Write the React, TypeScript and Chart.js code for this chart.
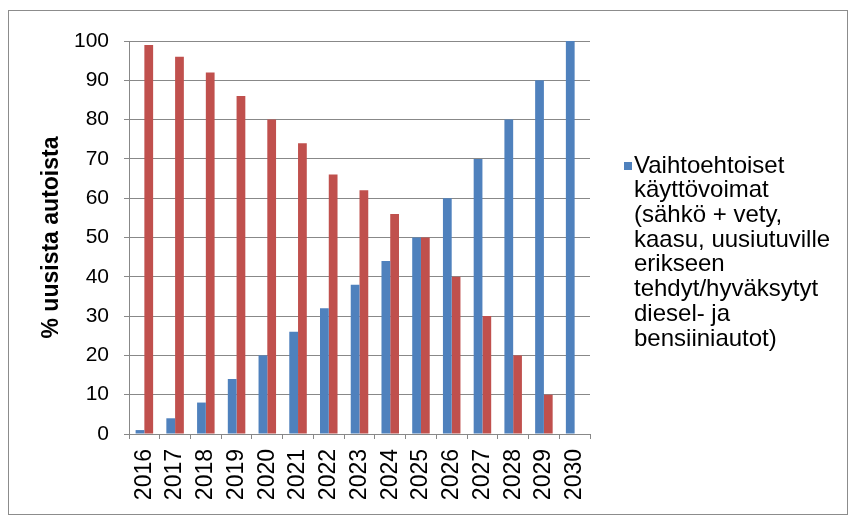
import React, { useEffect, useRef } from "react";
import { Chart, registerables } from "chart.js";

Chart.register(...registerables);

const years = ["2016", "2017", "2018", "2019", "2020", "2021", "2022", "2023", "2024", "2025", "2026", "2027", "2028", "2029", "2030"];
const altValues = [1, 4, 8, 14, 20, 26, 32, 38, 44, 50, 60, 70, 80, 90, 100];
const fossilValues = [99, 96, 92, 86, 80, 74, 66, 62, 56, 50, 40, 30, 20, 10, 0];
const altLabel = "Vaihtoehtoiset käyttövoimat (sähkö + vety, kaasu, uusiutuville erikseen tehdyt/hyväksytyt diesel- ja bensiiniautot)";
const legendLines = [
  "Vaihtoehtoiset",
  "käyttövoimat",
  "(sähkö + vety,",
  "kaasu, uusiutuville",
  "erikseen",
  "tehdyt/hyväksytyt",
  "diesel- ja",
  "bensiiniautot)",
];
const yTitle = "% uusista autoista";

const BLUE = "#4F81BD";
const RED = "#C0504D";
const GRID = "#888888";
const FONT = "'Liberation Sans', Arial, sans-serif";

const CW = 838;
const CH = 503;

const legendPlugin = {
  id: "customLegend",
  afterDraw(chart: any) {
    const ctx = chart.ctx;
    const x0 = chart.chartArea.right + 34;
    const y0 = 155;
    ctx.save();
    ctx.fillStyle = BLUE;
    ctx.fillRect(x0, y0 - 4, 8, 8);
    ctx.fillStyle = "#000";
    ctx.font = "24px " + FONT;
    ctx.textBaseline = "middle";
    ctx.textAlign = "left";
    legendLines.forEach((line, i) => {
      ctx.fillText(line, x0 + 10, y0 + i * 24.7);
    });
    ctx.restore();
  },
};

export default function App() {
  const ref = useRef<HTMLCanvasElement>(null);

  useEffect(() => {
    if (!ref.current) return;
    const chart = new Chart(ref.current, {
      type: "bar",
      data: {
        labels: years,
        datasets: [
          {
            label: altLabel,
            data: altValues,
            backgroundColor: BLUE,
            borderWidth: 0,
            categoryPercentage: 0.57,
            barPercentage: 1,
          },
          {
            label: "Bensiini- ja dieselautot",
            data: fossilValues,
            backgroundColor: RED,
            borderWidth: 0,
            categoryPercentage: 0.57,
            barPercentage: 1,
          },
        ],
      },
      options: {
        responsive: false,
        animation: false,
        layout: { padding: { left: 0, right: CW - 581, top: 30, bottom: 0 } },
        plugins: {
          legend: { display: false },
          tooltip: { enabled: false },
        },
        scales: {
          x: {
            grid: {
              display: true,
              drawOnChartArea: false,
              drawTicks: true,
              tickLength: 5,
              color: GRID,
              offset: true,
            },
            border: { display: true, color: GRID, width: 1 },
            ticks: {
              color: "#000",
              font: { family: FONT, size: 23 },
              minRotation: 90,
              maxRotation: 90,
              padding: 10,
              autoSkip: false,
            },
            afterFit(scale: any) {
              scale.height = CH - 423;
            },
          },
          y: {
            min: 0,
            max: 100,
            ticks: {
              stepSize: 10,
              color: "#000",
              font: { family: FONT, size: 21 },
              padding: 15,
            },
            grid: {
              color: GRID,
              tickLength: 5,
              drawTicks: true,
            },
            border: { display: true, color: GRID, width: 1 },
            title: {
              display: true,
              text: yTitle,
              color: "#000",
              font: { family: FONT, size: 23, weight: "bold" },
              padding: { top: 29, bottom: 0 },
            },
            afterFit(scale: any) {
              scale.width = 120;
            },
          },
        },
      },
      plugins: [legendPlugin],
    });
    return () => chart.destroy();
  }, []);

  return (
    <div
      style={{
        marginTop: 2,
        width: 840,
        height: 505,
        boxSizing: "border-box",
        border: "1px solid #8c8c8c",
      }}
    >
      <canvas ref={ref} width={CW} height={CH} style={{ display: "block" }} />
    </div>
  );
}
